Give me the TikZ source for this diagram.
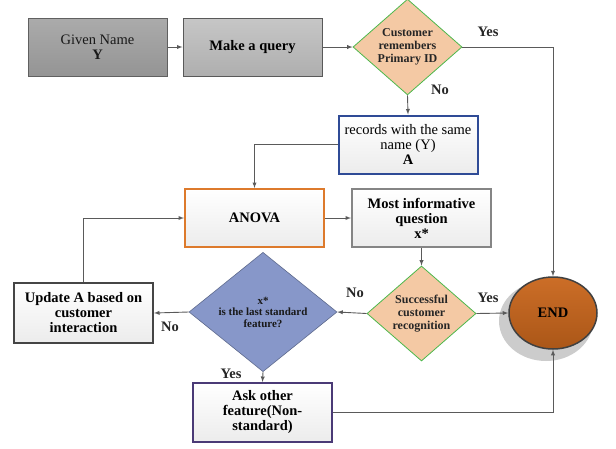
\documentclass[tikz,border=0pt]{standalone}
\usepackage{fontspec}
\setmainfont{Liberation Serif}
\usepackage{tikz}
\usetikzlibrary{arrows, positioning, shapes}
\definecolor{GIV}{HTML}{9C9C9C}
\definecolor{QRY}{HTML}{B8B8B8}
\definecolor{DEC}{HTML}{F4C9A4}
\definecolor{LST}{HTML}{8797C9}
\definecolor{REC}{HTML}{2F4B96}
\definecolor{ANO}{HTML}{DD7A2C}
\definecolor{INF}{HTML}{858585}
\definecolor{UPD}{HTML}{454545}
\definecolor{ASK}{HTML}{4A3A76}
\definecolor{FIN}{HTML}{C9661C}
\definecolor{LNK}{HTML}{5A5A5A}
\tikzset{
  BOX/.style={% Common look of every rectangle
      rectangle,
      align=center,
      minimum width=139pt,
      minimum height=58pt,
      inner sep=2pt,
      font=\fontsize{14.5}{15}\selectfont\bfseries,
      top color=white, bottom color=gray!15,
  },
  GIV/.style={% Style for the input box
      BOX, line width=1pt, draw=gray!75!black,
      top color=GIV!85!white, bottom color=GIV!95!black,
      font=\fontsize{14.5}{15}\selectfont, text=black!90,
  },
  QRY/.style={% Style for the query box
      BOX, line width=1pt, draw=gray!70!black,
      top color=QRY!80!white, bottom color=QRY!95!black,
  },
  REC/.style={BOX, line width=2pt, draw=REC, font=\fontsize{14.5}{15}\selectfont},
  ANO/.style={BOX, line width=2pt, draw=ANO},
  INF/.style={BOX, line width=2pt, draw=INF},
  UPD/.style={BOX, line width=2pt, draw=UPD},
  ASK/.style={BOX, line width=2pt, draw=ASK},
  DEC/.style={% Style for yes/no questions
      diamond, inner sep=0pt,
      minimum width=109pt, minimum height=95pt,
      fill=DEC, draw=green!60!black!70, line width=0.8pt,
      align=center, text=black!85,
      font=\fontsize{12}{12.8}\selectfont\bfseries,
  },
  LST/.style={% Style for the blue question
      diamond, inner sep=0pt,
      minimum width=148pt, minimum height=96pt,
      fill=LST, draw=LST!70!black, line width=0.6pt,
      align=center, text=black!90,
      font=\fontsize{11}{11.5}\selectfont\bfseries,
  },
  FIN/.style={% Style for the end state
      ellipse, minimum width=88pt, minimum height=72pt,
      top color=FIN!95!white, bottom color=FIN!85!black,
      draw=black!75, line width=1.5pt,
      font=\fontsize{14.5}{15}\selectfont\bfseries,
  },
  LBL/.style={font=\fontsize{14.5}{15}\selectfont\bfseries, text=black!85},
  LNK/.style={->, >=latex, draw=LNK, line width=0.9pt},
}

\begin{document}
\begin{tikzpicture}[x=1pt, y=-1pt]
    \useasboundingbox (0,0) rectangle (616,448);
    % shadow of the end state
    \fill[gray!40] (546,321) ellipse (47pt and 40pt);
    \node[GIV] (given) at (97.5,47) {Given Name\\\textbf{Y}};
    \node[QRY] (query) at (252.5,47) {Make a query};
    \node[DEC] (remember) at (407.5,47) {Customer\\remembers\\Primary ID};
    \node[REC] (records) at (408,144.5) {records with the same\\name (Y)\\\textbf{A}};
    \node[ANO] (anova) at (254.5,218) {ANOVA};
    \node[INF] (inform) at (421.5,218) {Most informative\\question\\x*};
    \node[DEC] (success) at (421.5,313.5) {Successful\\customer\\recognition};
    \node[FIN] (end) at (553,313) {END};
    \node[LST] (laststd) at (263,312) {x*\\is the last standard\\feature?};
    \node[UPD, minimum height=60pt] (update) at (83.5,313) {Update A based on\\customer\\interaction};
    \node[ASK, minimum height=59pt] (ask) at (262.5,412.5) {Ask other\\feature(Non-\\standard)};
    % answers
    \node[LBL] (yesid) at (488,32) {Yes};
    \node[LBL] (noid) at (440,90) {No};
    \node[LBL] (nosucc) at (355,293) {No};
    \node[LBL] (yessucc) at (488,298) {Yes};
    \node[LBL] (nolast) at (170,327) {No};
    \node[LBL] (yeslast) at (231,374) {Yes};
    % links
    \draw[LNK] (given) -- (query);
    \draw[LNK] (query) -- (remember.west);
    \draw[LNK] (remember.east) -| (end.north);
    \draw[LNK] (remember.south) -- (records.north);
    \draw[LNK] (records.west) -| (anova.north);
    \draw[LNK] (anova) -- (inform);
    \draw[LNK] (inform.south) -- (success.north);
    \draw[LNK] (success.east) -- (end.west);
    \draw[LNK] (success.west) -- (laststd.east);
    \draw[LNK] (laststd.west) -- (update.east);
    \draw[LNK] (update.north) |- (anova.west);
    \draw[LNK] (laststd.south) -- (ask.north);
    \draw[LNK] (ask.east) -| (end.south);
\end{tikzpicture}
\end{document}
